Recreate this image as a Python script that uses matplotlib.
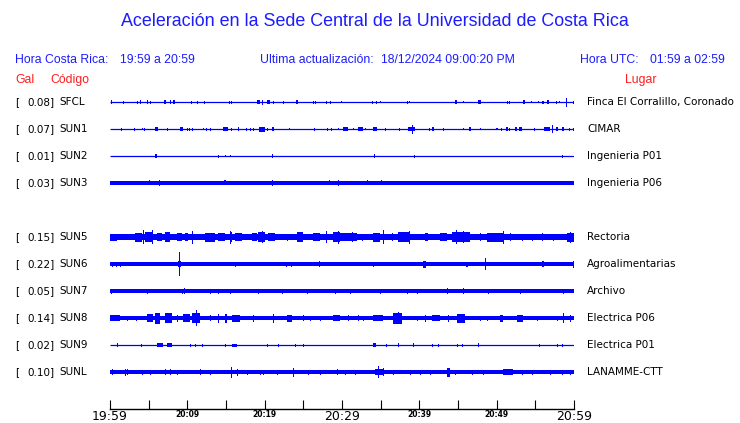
import matplotlib
matplotlib.use("Agg")
import matplotlib.pyplot as plt

# Estaciones (codigo, Gal, lugar)
codes = ["SFCL", "SUN1", "SUN2", "SUN3", None, "SUN5", "SUN6", "SUN7", "SUN8", "SUN9", "SUNL"]
gal = ["0.08", "0.07", "0.01", "0.03", None, "0.15", "0.22", "0.05", "0.14", "0.02", "0.10"]
places = ["Finca El Corralillo, Coronado", "CIMAR", "Ingenieria P01", "Ingenieria P06", None,
          "Rectoria", "Agroalimentarias", "Archivo", "Electrica P06", "Electrica P01", "LANAMME-CTT"]

# semi-amplitud del ruido de fondo de cada traza
base = [0.5, 0.5, 0.5, 1.6, None, 3.0, 1.6, 1.7, 1.8, 0.5, 1.7]

# eventos: (minuto inicio, minuto fin, semi-amplitud)
sfcl = [(0.1, 0.1, 2), (1.7, 1.7, 1.5), (3.5, 3.5, 1.5), (3.9, 3.9, 2), (4.8, 4.8, 2), (5.2, 5.2, 1.5),
        (7.0, 7.2, 2), (7.8, 7.8, 2), (8.1, 8.4, 2), (10.5, 10.5, 1.5), (11.2, 11.2, 1.5), (12.2, 12.2, 1.5),
        (15.4, 15.4, 1.5), (15.6, 15.6, 1.5), (19.0, 19.4, 2), (19.7, 19.7, 2.5), (20.3, 20.7, 2),
        (21.1, 21.1, 1.5), (22.4, 22.4, 1.5), (24.0, 24.3, 2), (26.2, 26.2, 1.5), (26.5, 26.5, 1.5),
        (27.9, 27.9, 1.5), (28.4, 28.4, 1.5), (29.9, 29.9, 1), (33.9, 33.9, 1.5), (34.4, 34.4, 1.5),
        (34.9, 34.9, 1), (38.4, 38.4, 1.5), (38.7, 38.7, 1), (44.6, 44.9, 2), (45.6, 45.6, 1),
        (47.6, 48.0, 2), (51.3, 51.3, 1.5), (51.6, 51.6, 1.5), (53.4, 53.7, 2), (54.4, 54.4, 1),
        (55.3, 55.3, 1), (55.9, 55.9, 1.5), (56.0, 56.0, 1.5), (56.5, 56.8, 2), (57.7, 57.7, 1.5),
        (58.1, 58.1, 1), (59.0, 59.0, 4.5), (59.9, 59.9, 1.5)]
sun1 = [(1.4, 1.4, 1.5), (3.1, 3.1, 1.5), (4.1, 4.1, 1), (4.4, 4.4, 1.5), (5.8, 6.2, 2), (7.4, 7.4, 1.5),
        (9.1, 9.4, 2), (10.0, 10.0, 1.5), (10.2, 10.2, 1.5), (10.6, 10.6, 1.5), (12.0, 12.0, 1),
        (12.4, 12.4, 1.5), (12.9, 12.9, 1.5), (14.6, 15.3, 2), (15.6, 15.6, 1.5), (16.5, 16.7, 2),
        (17.6, 17.6, 1.5), (18.1, 18.1, 1.5), (18.5, 18.5, 1.5), (19.3, 20.0, 2.5), (20.3, 20.3, 1.5),
        (20.9, 21.2, 2), (23.1, 23.1, 1), (26.4, 26.4, 1.5), (28.1, 28.1, 1.5), (28.6, 28.6, 1.5),
        (29.5, 29.5, 1), (30.1, 30.8, 2), (31.4, 31.4, 1), (32.1, 32.7, 2), (33.0, 33.0, 1),
        (34.0, 34.5, 2), (35.6, 35.6, 1.5), (37.4, 37.4, 1.5), (38.5, 39.4, 2), (39.1, 39.1, 4.5),
        (41.2, 41.2, 1.5), (41.6, 41.9, 2), (43.1, 43.1, 1.5), (45.6, 45.6, 1), (46.4, 46.7, 2),
        (47.8, 47.8, 1), (49.9, 49.9, 1), (50.0, 50.0, 1), (50.6, 50.6, 1.5), (51.2, 51.5, 2),
        (51.6, 51.6, 1.5), (52.4, 52.6, 2), (52.9, 53.3, 2), (54.8, 54.8, 1.5), (56.1, 56.9, 2),
        (57.2, 57.2, 4), (57.7, 57.9, 2), (58.4, 58.7, 2), (59.4, 59.4, 1.5), (59.9, 59.9, 1.5)]
sun2 = [(5.8, 6.1, 2), (14.0, 14.0, 1.5), (14.9, 14.9, 1), (15.5, 15.5, 1), (20.9, 20.9, 2),
        (34.1, 34.1, 2), (39.3, 39.3, 1.5), (58.4, 58.4, 1.5)]
sun3 = [(5.0, 5.0, 2.5), (6.3, 6.3, 3), (14.7, 15.0, 2.5), (20.9, 20.9, 3), (28.3, 28.3, 2.5),
        (29.5, 29.5, 3), (33.2, 33.2, 2.5), (35.0, 35.0, 2.5)]
sun5 = [(0.0, 0.9, 3.5), (3.2, 4.1, 4.5), (4.3, 4.3, 7), (4.5, 5.6, 5), (5.4, 5.4, 7), (6.1, 6.7, 4),
        (7.1, 7.8, 5), (8.7, 9.3, 4), (9.7, 10.1, 4), (10.6, 10.6, 6.5), (12.3, 13.6, 4.5),
        (14.0, 14.9, 4), (15.5, 15.8, 5), (15.5, 15.5, 6.5), (16.2, 17.1, 4), (18.4, 19.0, 4),
        (19.1, 20.0, 5), (19.7, 19.7, 6), (20.4, 21.3, 4), (22.9, 22.9, 3.5), (24.2, 25.0, 5),
        (26.2, 27.2, 4), (27.9, 27.9, 6), (28.8, 29.7, 5), (29.5, 29.5, 6.5), (29.7, 31.9, 4),
        (31.3, 31.3, 5), (32.6, 32.6, 3.5), (34.0, 34.9, 4.5), (35.3, 35.3, 7), (36.5, 36.5, 4),
        (37.2, 38.8, 5), (38.7, 38.7, 6.5), (40.7, 41.1, 4), (42.7, 43.6, 4), (44.2, 46.6, 5),
        (44.7, 44.7, 7), (45.6, 45.6, 6), (47.8, 47.8, 4), (48.7, 50.8, 4.5), (50.8, 50.8, 6.5),
        (51.7, 51.7, 4), (53.3, 53.3, 3.5), (54.6, 54.6, 3.5), (55.9, 55.9, 4), (57.3, 57.3, 3.5),
        (59.1, 60.0, 4.5), (59.5, 59.5, 5.5)]
sun6 = [(0.3, 0.3, 2.5), (0.8, 0.8, 2.5), (1.3, 1.3, 2.5), (3.7, 3.7, 2), (8.8, 9.2, 3), (8.9, 8.9, 12),
        (10.7, 10.7, 2), (13.4, 13.4, 2), (15.4, 15.4, 2), (16.2, 16.2, 2.5), (22.8, 22.8, 2.5),
        (23.4, 23.4, 2.5), (27.0, 27.0, 3), (29.1, 29.1, 2), (34.0, 34.0, 2.5), (36.1, 36.1, 2),
        (39.3, 39.3, 2), (40.5, 40.9, 3.5), (42.3, 42.3, 2), (43.2, 43.2, 2), (46.0, 46.3, 2.5),
        (48.5, 48.5, 6), (51.7, 51.7, 2), (53.7, 53.7, 2), (54.6, 54.6, 2), (55.9, 56.1, 3),
        (59.9, 59.9, 3.5)]
sun7 = [(0.1, 0.1, 2.5), (4.8, 4.8, 2.5), (9.3, 9.3, 2.5), (9.6, 9.6, 3), (12.9, 12.9, 2.5),
        (14.0, 14.0, 2.5), (15.5, 15.5, 2.5), (19.1, 19.1, 2.5), (22.2, 22.2, 2.5), (25.5, 25.5, 2.5),
        (29.1, 29.1, 2.5), (31.0, 31.0, 2.5), (34.9, 34.9, 2.5), (38.4, 38.4, 2.5), (39.7, 39.7, 2.5),
        (43.6, 43.6, 3), (45.6, 45.6, 3), (48.9, 48.9, 2.5), (53.0, 53.0, 2.5), (58.6, 58.6, 2.5)]
sun8 = [(0.0, 1.3, 3), (2.2, 2.2, 2.5), (3.4, 3.4, 2.5), (4.8, 5.6, 4), (5.8, 6.5, 5.5), (7.1, 8.0, 5),
        (8.7, 8.7, 3.5), (9.4, 10.3, 4), (10.6, 11.6, 5), (11.1, 11.1, 8), (12.9, 12.9, 3),
        (14.0, 14.0, 4.5), (14.9, 15.1, 4.5), (15.8, 16.8, 3.5), (18.5, 18.5, 3.5), (21.1, 21.1, 4.5),
        (22.9, 23.5, 3.5), (25.0, 25.0, 3), (25.9, 25.9, 2.5), (27.2, 27.2, 2.5), (28.8, 29.7, 3),
        (30.8, 30.8, 3), (32.1, 32.1, 3), (32.7, 32.7, 2.5), (34.0, 35.3, 3), (36.6, 37.8, 5.5),
        (37.2, 37.2, 6), (39.7, 39.7, 2.5), (40.7, 40.7, 3.5), (41.6, 42.7, 3), (43.7, 43.7, 3.5),
        (44.9, 45.9, 4.5), (47.8, 47.8, 2.5), (48.7, 48.7, 2.5), (50.4, 50.8, 3.5), (52.6, 53.4, 3.5),
        (55.2, 55.2, 2.5), (57.8, 57.8, 2.5), (58.6, 58.6, 5), (59.5, 59.5, 3.5)]
sun9 = [(0.9, 0.9, 2), (4.0, 4.0, 1.5), (6.1, 6.9, 2), (7.4, 8.0, 2), (10.3, 10.3, 1.5), (11.0, 11.0, 1.5),
        (11.9, 11.9, 1.5), (14.9, 14.9, 1.5), (15.8, 16.4, 1.5), (20.3, 20.3, 1.5), (21.7, 21.7, 1.5),
        (23.9, 23.9, 1.5), (25.0, 25.0, 1.5), (34.0, 34.4, 2), (35.7, 35.7, 1.5), (37.2, 37.2, 2),
        (39.2, 39.2, 2), (41.6, 41.6, 1.5), (42.4, 42.4, 1.5), (44.9, 44.9, 1.5), (45.5, 45.5, 1.5),
        (47.6, 47.6, 2), (55.5, 55.5, 1.5), (57.8, 57.8, 1.5), (58.4, 58.4, 1.5)]
sunl = [(0.3, 0.3, 3), (1.9, 1.9, 3.5), (2.2, 2.2, 3), (4.1, 4.1, 2.5), (5.2, 5.2, 2.5), (7.1, 7.1, 3),
        (7.8, 7.8, 3), (8.7, 8.7, 2.5), (11.6, 11.6, 3), (12.9, 12.9, 2.5), (15.6, 15.6, 5.5),
        (16.4, 16.4, 3.5), (17.7, 17.7, 2.5), (19.4, 19.4, 2.5), (19.8, 19.8, 2.5), (21.6, 21.6, 2.5),
        (23.7, 23.7, 4.5), (25.6, 25.6, 2.5), (27.2, 27.2, 2.5), (29.4, 29.4, 3), (30.4, 30.4, 2.5),
        (31.7, 31.7, 2.5), (34.3, 35.3, 3), (34.7, 34.7, 6), (35.3, 35.3, 4), (36.6, 36.6, 2.5),
        (38.8, 38.8, 2.5), (40.1, 40.1, 2.5), (41.4, 41.4, 2.5), (43.6, 44.0, 4.5), (44.6, 44.6, 2.5),
        (46.8, 46.8, 2.5), (48.2, 48.2, 2.5), (50.8, 52.1, 3), (53.3, 53.3, 2.5), (54.6, 54.6, 2.5),
        (56.9, 56.9, 2.5), (58.4, 58.4, 2.5), (59.5, 59.5, 2.5)]
events = [sfcl, sun1, sun2, sun3, None, sun5, sun6, sun7, sun8, sun9, sunl]

tick_min = list(range(0, 61, 5))
tick_labels = ["19:59", "", "20:09", "", "20:19", "", "20:29", "", "20:39", "", "20:49", "", "20:59"]
big_labels = ["19:59", "20:29", "20:59"]

BLUE = "#0000ff"
TXT_BLUE = "#1c1cff"
RED = "#ff1c1c"

W, H = 740, 423
fig = plt.figure(figsize=(W / 100, H / 100), dpi=100)
fig.patch.set_facecolor("white")

# axes en "pixeles" verticales: y de datos = y de pantalla
ax = fig.add_axes([110 / W, 14 / H, 464 / W, (409 - 88) / H])
ax.set_xlim(0, 60)
ax.set_ylim(409, 88)

row0, drow = 102, 27
for i, ev in enumerate(events):
    if ev is None:
        continue
    y = row0 + drow * i
    b = base[i]
    if b <= 0.6:
        ax.hlines(y, 0, 60, color=BLUE, lw=0.9)
    else:
        ax.fill_between([0, 60], y - b, y + b, color=BLUE, lw=0, antialiased=False)
    t0 = [e[0] for e in ev]
    wd = [max(e[1] - e[0], 0.14) for e in ev]
    amp = [e[2] for e in ev]
    ax.bar(t0, [2 * a for a in amp], width=wd, bottom=[y - a for a in amp], align="edge",
           color=BLUE, lw=0, antialiased=False)

    # etiquetas izquierda / derecha
    fig.text(15 / W, 1 - y / H, "[", fontsize=7.5, va="center", ha="left", family="DejaVu Sans")
    fig.text(55 / W, 1 - y / H, gal[i] + "]", fontsize=7.5, va="center", ha="right", family="DejaVu Sans")
    fig.text(59 / W, 1 - y / H, codes[i], fontsize=7.5, va="center", ha="left", family="DejaVu Sans")
    fig.text(587 / W, 1 - y / H, places[i], fontsize=7.5, va="center", ha="left", family="DejaVu Sans")

# eje de tiempo
for s in ["top", "left", "right"]:
    ax.spines[s].set_visible(False)
ax.spines["bottom"].set_linewidth(1.0)
ax.set_yticks([])
ax.set_xticks(tick_min)
ax.set_xticklabels(tick_labels)
ax.tick_params(axis="x", direction="in", length=6.5, width=0.8, pad=1)
for lab in ax.get_xticklabels():
    if lab.get_text() in big_labels:
        lab.set_fontsize(9)
    else:
        lab.set_fontsize(5.5)
        lab.set_fontweight("bold")
    lab.set_family("DejaVu Sans")

# encabezados
hdr = dict(fontsize=8.8, color=TXT_BLUE, va="center", family="Liberation Sans")
fig.text(375 / W, 1 - 22 / H, "Aceleración en la Sede Central de la Universidad de Costa Rica",
         fontsize=12.9, color=TXT_BLUE, ha="center", va="center", family="Liberation Sans")
fig.text(15 / W, 1 - 60 / H, "Hora Costa Rica:", **hdr)
fig.text(120 / W, 1 - 60 / H, "19:59 a 20:59", **hdr)
fig.text(260 / W, 1 - 60 / H, "Ultima actualización:", **hdr)
fig.text(381 / W, 1 - 60 / H, "18/12/2024 09:00:20 PM", **hdr)
fig.text(580 / W, 1 - 60 / H, "Hora UTC:", **hdr)
fig.text(650 / W, 1 - 60 / H, "01:59 a 02:59", **hdr)
red = dict(fontsize=8.8, color=RED, va="center", family="Liberation Sans")
fig.text(15 / W, 1 - 80 / H, "Gal", **red)
fig.text(50 / W, 1 - 80 / H, "Código", **red)
fig.text(625 / W, 1 - 80 / H, "Lugar", **red)

fig.savefig("out.png", dpi=100)
